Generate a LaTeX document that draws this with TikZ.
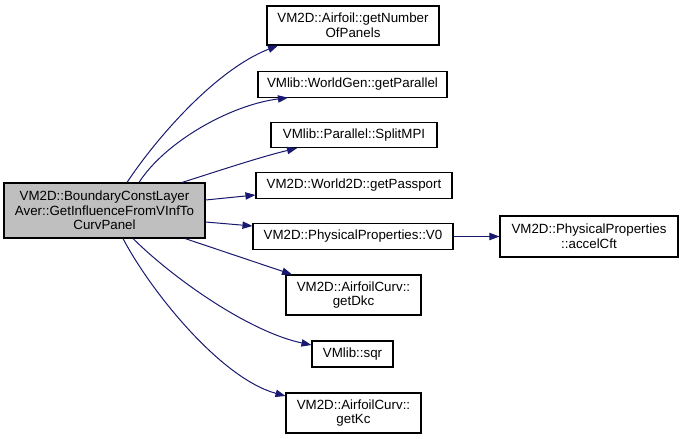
\documentclass[tikz,border=0pt]{standalone}
\usepackage{fontspec}
\setmainfont{Liberation Sans}
\usetikzlibrary{arrows.meta,calc}
\definecolor{edgeblue}{RGB}{25,25,112}
\definecolor{maingray}{RGB}{191,191,191}
\begin{document}
\begin{tikzpicture}[x=0.75pt,y=-0.75pt,
  box/.style={draw=black,line width=0.8pt,inner sep=0pt,align=center,
    font=\fontsize{10pt}{11pt}\selectfont},
  edge/.style={draw=edgeblue,line width=0.75pt,-{Triangle[length=7.5pt,width=5.5pt]}}]
\useasboundingbox (0,0) rectangle (683,439);
\node[box,fill=maingray,minimum width=150.75pt,minimum height=41.25pt] (main) at (104.5,210.5)
  {VM2D::BoundaryConstLayer\\Aver::GetInfluenceFromVInfTo\\CurvPanel};
\node[box,minimum width=129pt,minimum height=29.25pt] (n1) at (353,25.5) {VM2D::Airfoil::getNumber\\OfPanels};
\node[box,minimum width=141.75pt,minimum height=19pt] (n2) at (352.5,84.5) {VMlib::WorldGen::getParallel};
\node[box,minimum width=124.5pt,minimum height=19pt] (n3) at (354,135) {VMlib::Parallel::SplitMPI};
\node[box,minimum width=147pt,minimum height=19pt] (n4) at (354,185.5) {VM2D::World2D::getPassport};
\node[box,minimum width=150pt,minimum height=19pt] (n5) at (353,236.5) {VM2D::PhysicalProperties::V0};
\node[box,minimum width=101.25pt,minimum height=30pt] (n6) at (353.5,295) {VM2D::AirfoilCurv::\\getDkc};
\node[box,minimum width=60.75pt,minimum height=19.5pt] (n7) at (352.5,354) {VMlib::sqr};
\node[box,minimum width=101.25pt,minimum height=30pt] (n8) at (353.5,413) {VM2D::AirfoilCurv::\\getKc};
\node[box,minimum width=133.5pt,minimum height=30.75pt] (n9) at (589,236.5) {VM2D::PhysicalProperties\\::accelCft};
% edges
\draw[edge] ($(main.north)+(22.5,0)$) .. controls (155,140) and (215,70) .. ($(n1.south)+(-75,0)$);
\draw[edge] ($(main.north)+(34.5,0)$) .. controls (165,142) and (230,105) .. ($(n2.south)+(-64.5,0)$);
\draw[edge] ($(main.north)+(77.5,0)$) .. controls (215,172) and (260,157) .. ($(n3.south)+(-57,0)$);
\draw[edge] ($(main.east)+(0,-10.5)$) -- ($(n4.west)+(0,9.5)$);
\draw[edge] ($(main.east)+(0,11.5)$) -- ($(n5.west)+(0,-10.5)$);
\draw[edge] ($(main.south)+(80.5,0)$) -- ($(n6.north)+(-61.5,0)$);
\draw[edge] ($(main.south)+(28.5,0)$) .. controls (175,280) and (250,332) .. ($(n7.west)+(0,-9)$);
\draw[edge] ($(main.south)+(18.5,0)$) .. controls (150,290) and (220,378) .. ($(n8.west)+(0,-17)$);
\draw[edge] (n5.east) -- (n9.west);
\end{tikzpicture}
\end{document}
